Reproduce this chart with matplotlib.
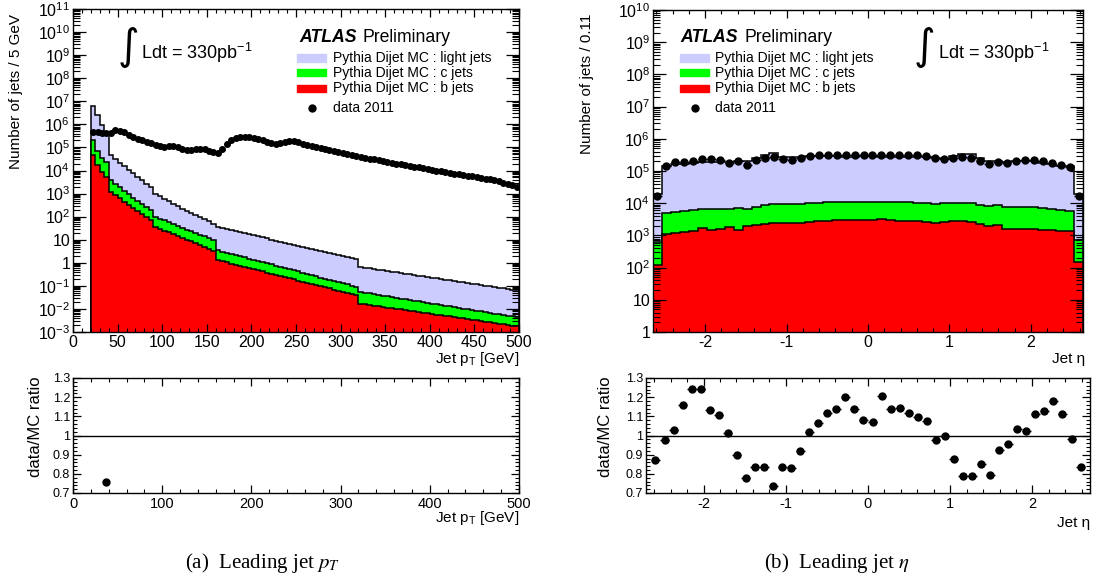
import numpy as np
import matplotlib
matplotlib.use("Agg")
import matplotlib.pyplot as plt
from matplotlib.patches import Rectangle
from matplotlib.lines import Line2D
from matplotlib.ticker import FuncFormatter, LogLocator, MultipleLocator, NullFormatter

plt.rcParams["font.family"] = ["Liberation Sans", "DejaVu Sans"]
plt.rcParams["mathtext.fontset"] = "custom"
plt.rcParams["mathtext.rm"] = "Liberation Sans"
plt.rcParams["mathtext.it"] = "Liberation Sans:italic"
plt.rcParams["mathtext.bf"] = "Liberation Sans:bold"

LIGHT = "#ccccff"
CJET = "#00ff00"
BJET = "#ff0000"

# ---- leading jet pT : 5 GeV bins, 20-500 GeV ----
pt_edges = np.arange(20, 505, 5)
pt_data = [
    4.6e5, 4.5e5, 4.4e5, 4.3e5, 4.2e5, 5.6e5, 5.2e5, 4.5e5, 3.5e5, 2.9e5,
    2.3e5, 2.0e5, 1.7e5, 1.5e5, 1.26e5, 1.12e5, 1.05e5, 1.10e5, 1.15e5, 1.0e5,
    8.5e4, 7.6e4, 7.8e4, 8.5e4, 8.9e4, 8.3e4, 7.2e4, 6.3e4, 5.5e4, 8.3e4,
    1.41e5, 2.1e5, 2.6e5, 2.9e5, 2.9e5, 2.7e5, 2.5e5, 2.3e5, 2.0e5, 1.74e5,
    1.58e5, 1.48e5, 1.58e5, 1.78e5, 1.9e5, 1.82e5, 1.66e5, 1.48e5, 1.32e5, 1.17e5,
    1.05e5, 9.3e4, 8.5e4, 7.6e4, 6.9e4, 6.3e4, 5.75e4, 5.25e4, 4.8e4, 4.4e4,
    4.0e4, 3.6e4, 3.3e4, 3.0e4, 2.8e4, 2.6e4, 2.35e4, 2.2e4, 2.0e4, 1.86e4,
    1.7e4, 1.58e4, 1.45e4, 1.35e4, 1.23e4, 1.15e4, 1.07e4, 1.0e4, 9.3e3, 8.7e3,
    7.9e3, 7.4e3, 6.9e3, 6.5e3, 6.0e3, 5.6e3, 5.1e3, 4.8e3, 4.5e3, 4.2e3,
    3.8e3, 3.5e3, 3.0e3, 2.6e3, 2.3e3, 2.0e3,
]
# top of each stack layer (light + c + b, c + b, b)
pt_mc_all = [
    6.3e6, 2.45e6, 9.1e5, 4.7e5, 4.6e4, 3.2e4, 2.2e4, 1.55e4, 1.1e4, 7.6e3,
    5.4e3, 3.7e3, 2.6e3, 2.0e3, 1.0e3, 760, 590, 460, 355, 280,
    225, 178, 141, 115, 93, 76, 62, 50, 35.5, 32,
    28.8, 26, 23.4, 21.1, 19.1, 17.2, 15.5, 14.0, 12.6, 11.4,
    10.2, 9.2, 8.3, 7.5, 6.8, 6.1, 5.5, 4.95, 4.47, 4.03,
    3.63, 3.27, 2.95, 2.66, 2.40, 2.16, 1.95, 1.76, 1.58, 1.43,
    0.66, 0.62, 0.58, 0.54, 0.51, 0.47, 0.44, 0.41, 0.39, 0.36,
    0.34, 0.32, 0.30, 0.28, 0.26, 0.24, 0.227, 0.212, 0.199, 0.186,
    0.174, 0.163, 0.152, 0.142, 0.133, 0.124, 0.116, 0.109, 0.102, 0.095,
    0.089, 0.083, 0.078, 0.073, 0.068, 0.064,
]
pt_mc_cb = [
    2.0e5, 7.1e4, 3.5e4, 2.3e4, 3.7e3, 2.6e3, 1.86e3, 1.32e3, 930, 660,
    480, 350, 250, 186, 100, 83, 69, 58, 48, 40,
    33, 27.5, 23, 19.5, 16.6, 14.1, 12.0, 10.2, 3.47, 3.08,
    2.74, 2.44, 2.17, 1.93, 1.71, 1.52, 1.36, 1.20, 1.07, 0.95,
    0.85, 0.75, 0.67, 0.60, 0.53, 0.47, 0.42, 0.37, 0.33, 0.29,
    0.26, 0.23, 0.207, 0.184, 0.164, 0.146, 0.129, 0.115, 0.102, 0.091,
    0.054, 0.050, 0.047, 0.043, 0.040, 0.038, 0.035, 0.033, 0.030, 0.028,
    0.026, 0.0245, 0.0228, 0.0212, 0.0198, 0.0184, 0.0171, 0.0160, 0.0149, 0.0138,
    0.0129, 0.0120, 0.0112, 0.0104, 0.0097, 0.0090, 0.0084, 0.0078, 0.0073, 0.0068,
    0.0063, 0.0059, 0.0055, 0.0051, 0.0047, 0.0044,
]
pt_mc_b = [
    4.6e4, 1.8e4, 8.9e3, 5.2e3, 1.17e3, 850, 620, 450, 330, 240,
    178, 132, 95, 71, 35.5, 29.6, 24.8, 20.7, 17.3, 14.5,
    12.1, 10.1, 8.4, 7.0, 5.9, 4.9, 4.1, 3.4, 1.29, 1.15,
    1.03, 0.92, 0.82, 0.73, 0.65, 0.58, 0.52, 0.47, 0.42, 0.37,
    0.33, 0.30, 0.265, 0.237, 0.212, 0.189, 0.169, 0.151, 0.135, 0.120,
    0.108, 0.096, 0.086, 0.077, 0.069, 0.061, 0.055, 0.049, 0.044, 0.039,
    0.017, 0.0159, 0.0149, 0.0140, 0.0131, 0.0123, 0.0115, 0.0108, 0.0101, 0.0095,
    0.0089, 0.0084, 0.0078, 0.0073, 0.0069, 0.0065, 0.0061, 0.0057, 0.0053, 0.0050,
    0.0047, 0.0044, 0.0041, 0.0039, 0.0036, 0.0034, 0.0032, 0.0030, 0.0028, 0.0026,
    0.0025, 0.0023, 0.0022, 0.0020, 0.0019, 0.0018,
]
pt_ratio_x = [37.5]
pt_ratio = [0.76]

# ---- leading jet eta : 48 bins of 0.11 ----
eta_edges = np.round(np.arange(49) * 0.11 - 2.64, 2)
eta_data = [
    1.67e4, 1.43e5, 1.86e5, 1.90e5, 2.10e5, 2.31e5, 2.36e5, 2.20e5, 1.82e5, 2.05e5,
    1.53e5, 2.20e5, 2.60e5, 2.66e5, 2.31e5, 2.20e5, 2.48e5, 2.93e5, 3.07e5, 3.21e5,
    3.21e5, 3.14e5, 3.14e5, 3.07e5, 3.07e5, 3.21e5, 3.21e5, 3.21e5, 3.14e5, 3.07e5,
    2.86e5, 2.48e5, 2.31e5, 2.48e5, 2.66e5, 2.60e5, 2.10e5, 1.65e5, 1.95e5, 1.73e5,
    2.10e5, 2.20e5, 2.20e5, 2.00e5, 1.82e5, 1.53e5, 1.36e5, 1.67e4,
]
eta_mc_all = [
    1.9e4, 1.45e5, 1.7e5, 1.7e5, 1.75e5, 1.85e5, 1.95e5, 1.95e5, 1.9e5, 2.0e5,
    2.05e5, 2.6e5, 3.1e5, 3.6e5, 2.8e5, 2.7e5, 2.75e5, 2.85e5, 2.9e5, 2.9e5,
    2.85e5, 2.75e5, 2.8e5, 2.85e5, 2.85e5, 2.75e5, 2.8e5, 2.8e5, 2.8e5, 2.8e5,
    2.65e5, 2.5e5, 2.4e5, 2.9e5, 3.35e5, 3.3e5, 2.45e5, 2.1e5, 2.1e5, 1.9e5,
    2.0e5, 2.1e5, 2.0e5, 1.8e5, 1.6e5, 1.45e5, 1.4e5, 2.0e4,
]
eta_mc_cb = [
    640, 5.1e3, 5.3e3, 5.6e3, 6.0e3, 6.6e3, 6.8e3, 6.5e3, 6.6e3, 7.0e3,
    6.7e3, 7.8e3, 8.6e3, 9.5e3, 9.2e3, 9.3e3, 9.6e3, 1.0e4, 1.03e4, 1.06e4,
    1.08e4, 1.1e4, 1.1e4, 1.1e4, 1.09e4, 1.1e4, 1.1e4, 1.09e4, 1.08e4, 1.05e4,
    1.0e4, 9.5e3, 9.8e3, 1.02e4, 1.04e4, 1.0e4, 9.0e3, 8.2e3, 8.6e3, 7.6e3,
    7.8e3, 7.6e3, 7.4e3, 7.0e3, 6.6e3, 6.2e3, 5.8e3, 700,
]
eta_mc_b = [
    120, 1.1e3, 1.2e3, 1.3e3, 1.4e3, 1.7e3, 1.5e3, 1.6e3, 1.8e3, 1.45e3,
    1.9e3, 2.1e3, 2.3e3, 2.4e3, 2.4e3, 2.4e3, 2.5e3, 2.7e3, 2.8e3, 2.8e3,
    3.0e3, 3.0e3, 3.1e3, 3.0e3, 3.0e3, 3.2e3, 3.0e3, 2.9e3, 2.9e3, 2.8e3,
    2.7e3, 2.5e3, 2.6e3, 2.8e3, 2.8e3, 2.6e3, 2.3e3, 1.9e3, 2.1e3, 1.6e3,
    1.6e3, 1.6e3, 1.6e3, 1.5e3, 1.5e3, 1.4e3, 1.4e3, 150,
]
eta_ratio = [
    0.871, 0.974, 1.028, 1.157, 1.244, 1.244, 1.134, 1.109, 1.011, 0.896,
    0.776, 0.836, 0.836, 0.735, 0.836, 0.829, 0.919, 1.018, 1.067, 1.115,
    1.139, 1.199, 1.138, 1.079, 1.069, 1.205, 1.136, 1.146, 1.120, 1.099,
    1.074, 0.974, 0.996, 0.875, 0.788, 0.788, 0.850, 0.794, 0.926, 0.956,
    1.035, 1.025, 1.113, 1.127, 1.182, 1.111, 0.984, 0.838,
]

legend_labels = [
    "Pythia Dijet MC : light jets",
    "Pythia Dijet MC : c jets",
    "Pythia Dijet MC : b jets",
]

W, H = 1099, 581
fig = plt.figure(figsize=(W / 100, H / 100), dpi=100)


def fx(x):
    return x / W


def fy(y):
    return 1 - y / H


def add_axes_px(x0, y0, x1, y1):
    return fig.add_axes([fx(x0), fy(y1), (x1 - x0) / W, (y1 - y0) / H])


def log_label(v, pos):
    e = int(round(np.log10(v)))
    if e == 0:
        return "1"
    if e == 1:
        return "10"
    return f"$10^{{{e}}}$"


def plain_label(v, pos):
    return f"{v:g}"


def style_log_axes(ax, ymin, ymax):
    ax.set_yscale("log")
    ax.set_ylim(ymin, ymax)
    ax.yaxis.set_major_locator(LogLocator(base=10, numticks=30))
    ax.yaxis.set_minor_locator(LogLocator(base=10, subs=np.arange(2, 10), numticks=300))
    ax.yaxis.set_major_formatter(FuncFormatter(log_label))
    ax.yaxis.set_minor_formatter(NullFormatter())
    ax.tick_params(which="both", direction="in", top=True, right=True)
    ax.tick_params(axis="y", which="major", length=9.5, width=0.9, labelsize=11.5, pad=2)
    ax.tick_params(axis="y", which="minor", length=5, width=0.8)
    ax.tick_params(axis="x", which="major", length=6, width=0.9, labelsize=11.5, pad=2.5)
    ax.tick_params(axis="x", which="minor", length=3, width=0.8)
    ax.xaxis.set_major_formatter(FuncFormatter(plain_label))
    for s in ax.spines.values():
        s.set_linewidth(1.0)


def style_ratio_axes(ax):
    ax.set_ylim(0.7, 1.3)
    ax.yaxis.set_major_locator(MultipleLocator(0.1))
    ax.yaxis.set_minor_locator(MultipleLocator(0.02))
    ax.yaxis.set_major_formatter(FuncFormatter(plain_label))
    ax.xaxis.set_major_formatter(FuncFormatter(plain_label))
    ax.tick_params(which="both", direction="in", top=True, right=True)
    ax.tick_params(axis="y", which="major", length=6, width=0.9, labelsize=9, pad=2)
    ax.tick_params(axis="y", which="minor", length=3, width=0.8)
    ax.tick_params(axis="x", which="major", length=6, width=0.9, labelsize=10.5, pad=3)
    ax.tick_params(axis="x", which="minor", length=3, width=0.8)
    ax.axhline(1.0, color="black", lw=1.0)
    for s in ax.spines.values():
        s.set_linewidth(1.0)


def draw_stack(ax, edges, layers, floor):
    for top, col in zip(layers, [LIGHT, CJET, BJET]):
        ax.stairs(top, edges, baseline=floor, fill=True, color=col, lw=0)
        ax.stairs(top, edges, baseline=floor, fill=False, color="black", lw=1.1)


def draw_legend(x_box, x_text, x_atlas, y_atlas):
    fig.text(fx(x_atlas), fy(y_atlas), "ATLAS", fontsize=12.7, fontweight="bold",
             style="italic", va="center")
    fig.text(fx(x_atlas + 64), fy(y_atlas), "Preliminary", fontsize=12.7, va="center")
    rows = [58, 72.5, 88.3]
    for y, col, lab in zip(rows, [LIGHT, CJET, BJET], legend_labels):
        fig.patches.append(Rectangle((fx(x_box), fy(y + 3.5)), 29 / W, 7 / H,
                                     transform=fig.transFigure, color=col))
        fig.text(fx(x_text), fy(y), lab, fontsize=10, va="center")
    fig.lines.append(Line2D([fx(x_box + 14.5)], [fy(108.3)], marker="o", markersize=5,
                            color="black", transform=fig.transFigure))
    fig.text(fx(x_text), fy(108.3), "data 2011", fontsize=10, va="center")


def draw_lumi(x_int, x_text):
    fig.text(fx(x_int), fy(47), "\u222b", fontsize=30, family="DejaVu Sans",
             va="center", ha="center")
    fig.text(fx(x_text), fy(53), "Ldt = 330pb$^{-1}$", fontsize=13, va="center")


# ---------- pT main ----------
ax1 = add_axes_px(73, 9, 519, 332)
draw_stack(ax1, pt_edges, [pt_mc_all, pt_mc_cb, pt_mc_b], 1e-3)
pt_centers = pt_edges[:-1] + 2.5
ax1.errorbar(pt_centers, pt_data, xerr=2.5, fmt="o", color="black", markersize=4,
             lw=1.0, capsize=0)
ax1.set_xlim(0, 500)
style_log_axes(ax1, 1e-3, 1e11)
ax1.xaxis.set_major_locator(MultipleLocator(50))
ax1.xaxis.set_minor_locator(MultipleLocator(10))

# ---------- pT ratio ----------
ax2 = add_axes_px(73, 378, 519, 493)
style_ratio_axes(ax2)
ax2.errorbar(pt_ratio_x, pt_ratio, xerr=2.5, yerr=0.004, fmt="o", color="black",
             markersize=5, lw=1.0, capsize=0)
ax2.set_xlim(0, 500)
ax2.xaxis.set_major_locator(MultipleLocator(100))
ax2.xaxis.set_minor_locator(MultipleLocator(20))

# ---------- eta main ----------
ax3 = add_axes_px(653, 10, 1083, 332)
draw_stack(ax3, eta_edges, [eta_mc_all, eta_mc_cb, eta_mc_b], 1)
eta_centers = (eta_edges[:-1] + eta_edges[1:]) / 2
ax3.errorbar(eta_centers, eta_data, xerr=0.055, fmt="o", color="black", markersize=5,
             lw=1.0, capsize=0)
ax3.set_xlim(eta_edges[0], eta_edges[-1])
style_log_axes(ax3, 1, 1e10)
ax3.xaxis.set_major_locator(MultipleLocator(1))
ax3.xaxis.set_minor_locator(MultipleLocator(0.2))

# ---------- eta ratio ----------
ax4 = add_axes_px(646, 378, 1090, 493)
style_ratio_axes(ax4)
ax4.errorbar(eta_centers, eta_ratio, xerr=0.055, yerr=0.005, fmt="o", color="black",
             markersize=5, lw=1.0, capsize=0)
ax4.set_xlim(-2.7, 2.7)
ax4.xaxis.set_major_locator(MultipleLocator(1))
ax4.xaxis.set_minor_locator(MultipleLocator(0.2))

# ---------- labels ----------
fig.text(fx(16), fy(14), "Number of jets / 5 GeV", rotation=90, fontsize=11,
         ha="center", va="top")
fig.text(fx(587), fy(14), "Number of jets / 0.11", rotation=90, fontsize=11,
         ha="center", va="top")
fig.text(fx(519), fy(363), r"Jet p$_\mathrm{T}$ [GeV]", fontsize=11, ha="right",
         va="baseline")
fig.text(fx(1085), fy(363), "Jet \u03b7", fontsize=11, ha="right", va="baseline")
fig.text(fx(36), fy(376), "data/MC ratio", rotation=90, fontsize=12,
         ha="center", va="top")
fig.text(fx(605), fy(376), "data/MC ratio", rotation=90, fontsize=12,
         ha="center", va="top")
fig.text(fx(519), fy(522), r"Jet p$_\mathrm{T}$ [GeV]", fontsize=11, ha="right",
         va="baseline")
fig.text(fx(1090), fy(527), "Jet \u03b7", fontsize=11, ha="right", va="baseline")

draw_lumi(128, 141)
draw_lumi(924, 938)
draw_legend(297, 333, 299, 38)
draw_legend(680, 715, 680, 38)

fig.text(fx(263), fy(563), "(a)  Leading jet $p_T$", family="Liberation Serif",
         math_fontfamily="stix", fontsize=15, ha="center", va="center")
fig.text(fx(837), fy(563), "(b)  Leading jet $\\eta$", family="Liberation Serif",
         math_fontfamily="stix", fontsize=15, ha="center", va="center")

fig.savefig("out.png", dpi=100)
